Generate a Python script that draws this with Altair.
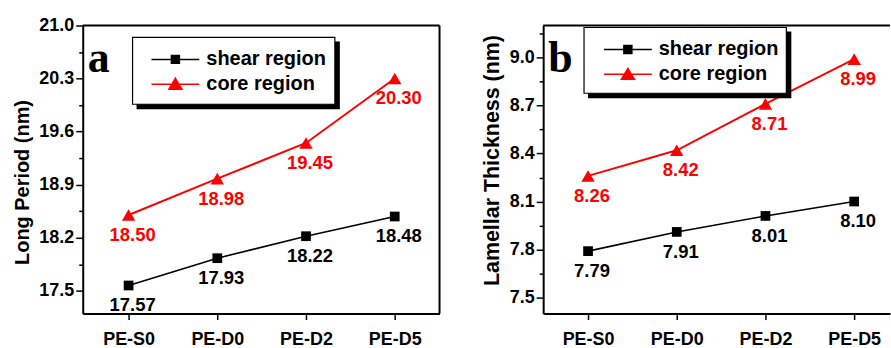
import json
import altair as alt
import pandas as pd

categories = ['PE-S0', 'PE-D0', 'PE-D2', 'PE-D5']
series_names = ['shear region', 'core region']
long_shear = [17.57, 17.93, 18.22, 18.48]
long_core = [18.50, 18.98, 19.45, 20.30]
lam_shear = [7.79, 7.91, 8.01, 8.10]
lam_core = [8.26, 8.42, 8.71, 8.99]
long_ticks = [17.5, 17.85, 18.2, 18.55, 18.9, 19.25, 19.6, 19.95, 20.3, 20.65, 21.0]
lam_ticks = [7.5, 7.65, 7.8, 7.95, 8.1, 8.25, 8.4, 8.55, 8.7, 8.85, 9.0, 9.15]
panel_letters = ['a', 'b']
y_titles = ['Long Period (nm)', 'Lamellar Thickness (nm)']

FONT = 'Liberation Sans'
RED = '#ff0000'
BLACK = '#000000'
H = 289

SQ_PATH = 'M-2.4,0H2.4M-0.4,-0.4H0.4V0.4H-0.4Z'
TRI_PATH = 'M-2.4,0H2.4M0,-0.6L0.65,0.5H-0.65Z'


def make_df(sh, co):
    rows = []
    for s, vals in zip(series_names, [sh, co]):
        for i, (c, v) in enumerate(zip(categories, vals)):
            rows.append({'idx': i, 'cat': c, 'series': s, 'value': v})
    return pd.DataFrame(rows)


def panel(df, letter, ytitle, tsize, ty, ydomain, yticks, mod, xdomain, W, box, legend_xy, right_border):
    major = f"round(datum.value*20) % {mod} == 0"
    x = alt.X('idx:Q', scale=alt.Scale(domain=xdomain, nice=False, zero=False),
              axis=alt.Axis(values=[0, 1, 2, 3], title=None, tickSize=6, labelPadding=11,
                            labelExpr=json.dumps(categories) + '[datum.value]'))
    y = alt.Y('value:Q', scale=alt.Scale(domain=ydomain, nice=False, zero=False),
              axis=alt.Axis(values=yticks, title=ytitle, titlePadding=6, labelPadding=2,
                            titleFontSize=tsize, titleY=ty,
                            labelExpr=f"{major} ? format(datum.value, '.1f') : ''",
                            tickSize={"condition": {"test": major, "value": 7}, "value": 4}))
    cscale = alt.Scale(domain=series_names, range=[BLACK, RED])
    base = alt.Chart(df)
    shear = base.transform_filter(alt.datum.series == series_names[0])
    core = base.transform_filter(alt.datum.series == series_names[1])
    l1 = shear.mark_line(color=BLACK, strokeWidth=1.6).encode(x=x, y=y)
    l2 = core.mark_line(color=RED, strokeWidth=2).encode(x=x, y=y)
    p1 = shear.mark_square(color=BLACK, size=95, opacity=1).encode(x=x, y=y)
    p2 = core.mark_point(shape='triangle-up', filled=True, color=RED, size=180, opacity=1).encode(x=x, y=y)
    txt = dict(font=FONT, fontSize=18.5, fontWeight='bold', dx=4, dy=20)
    t1 = shear.mark_text(color=BLACK, **txt).encode(x=x, y=y, text=alt.Text('value:Q', format='.2f'))
    t2 = core.mark_text(color=RED, **txt).encode(x=x, y=y, text=alt.Text('value:Q', format='.2f'))
    leg = alt.Legend(orient='none', legendX=legend_xy[0], legendY=legend_xy[1], title=None,
                     symbolSize=400, symbolStrokeWidth=1.5, symbolOpacity=1, zindex=2,
                     labelFont=FONT, labelFontSize=20, labelFontWeight='bold', labelColor=BLACK,
                     labelOffset=20, padding=0, rowPadding=4, symbolOffset=0)
    legend_layer = base.mark_point(filled=True, opacity=0).encode(
        x=x, y=y,
        fill=alt.Fill('series:N', scale=cscale, legend=leg),
        stroke=alt.Stroke('series:N', scale=cscale, legend=leg),
        shape=alt.Shape('series:N', scale=alt.Scale(domain=series_names, range=[SQ_PATH, TRI_PATH]), legend=leg))
    one = alt.Chart(pd.DataFrame({'letter': [letter]}))
    shadow = one.mark_rect(fill=BLACK).encode(
        x=alt.value(box[0] + 4), x2=alt.value(box[2] + 5), y=alt.value(box[1] + 4), y2=alt.value(box[3] + 5))
    boxr = one.mark_rect(fill='white', stroke=BLACK, strokeWidth=1.2).encode(
        x=alt.value(box[0]), x2=alt.value(box[2]), y=alt.value(box[1]), y2=alt.value(box[3]))
    let = one.mark_text(font='Liberation Serif', fontSize=44, fontWeight='bold', align='left',
                        baseline='alphabetic', color=BLACK).encode(
        x=alt.value(5), y=alt.value(47), text='letter:N')
    top = one.mark_rule(color=BLACK, strokeWidth=2).encode(x=alt.value(0), x2=alt.value(W), y=alt.value(0))
    layers = [l1, l2, p1, p2, t1, t2, shadow, boxr, legend_layer, let, top]
    if right_border:
        layers.append(one.mark_rule(color=BLACK, strokeWidth=2).encode(
            x=alt.value(W), y=alt.value(0), y2=alt.value(H)))
    return alt.layer(*layers).properties(width=W, height=H)


pa = panel(make_df(long_shear, long_core), panel_letters[0], y_titles[0], 20, 157, [17.2, 21.0], long_ticks, 14,
           [-0.517, 3.505], 358, (50, 12, 253, 79), (82, 23), True)
pb = panel(make_df(lam_shear, lam_core), panel_letters[1], y_titles[1], 21.5, 135, [7.4, 9.2], lam_ticks, 6,
           [-0.506, 3.404], 348, (41, 2, 244, 68), (74, 13), False)

chart = alt.hconcat(pa, pb, spacing=40).resolve_scale(
    fill='independent', stroke='independent', shape='independent'
).resolve_legend(fill='independent', stroke='independent', shape='independent').properties(
    padding={'left': 12, 'top': 16, 'right': 0, 'bottom': 0}, background='white'
).configure_view(strokeWidth=0).configure_axis(
    labelFont=FONT, labelFontSize=18, labelFontWeight='bold', labelColor=BLACK,
    titleFont=FONT, titleFontSize=20, titleFontWeight='bold', titleColor=BLACK,
    domainColor=BLACK, domainWidth=2, tickColor=BLACK, tickWidth=1.5, grid=False
)

chart.save('out.html', embed_options={'renderer': 'svg', 'actions': False})
